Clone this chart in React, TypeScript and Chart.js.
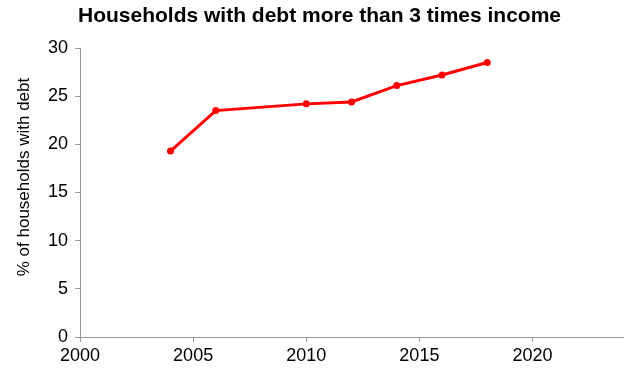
import React, { useEffect, useRef } from "react";
import { Chart, registerables } from "chart.js";

Chart.register(...registerables);

const years = [2004, 2006, 2010, 2012, 2014, 2016, 2018];
const shareWithHighDebt = [19.3, 23.5, 24.2, 24.4, 26.1, 27.2, 28.5];
const xTickValues = [2000, 2005, 2010, 2015, 2020];
const yTickValues = [0, 5, 10, 15, 20, 25, 30];
const chartTitle = "Households with debt more than 3 times income";
const yAxisTitle = "% of households with debt";

const FONT = "'Liberation Sans', Arial, Helvetica, sans-serif";

const textPlugin = {
  id: "textPlugin",
  afterDraw(chart: any) {
    const ctx = chart.ctx;
    ctx.save();
    ctx.font = `bold 21px ${FONT}`;
    ctx.fillStyle = "#000";
    ctx.textAlign = "center";
    ctx.textBaseline = "alphabetic";
    ctx.fillText(chartTitle, 319.5, 22);
    ctx.restore();

    ctx.save();
    ctx.translate(24, 177);
    ctx.rotate(-Math.PI / 2);
    ctx.font = `17px ${FONT}`;
    ctx.fillStyle = "#000";
    ctx.textAlign = "center";
    ctx.textBaseline = "middle";
    ctx.fillText(yAxisTitle, 0, 0);
    ctx.restore();
  },
};

export default function App() {
  const ref = useRef<HTMLCanvasElement | null>(null);

  useEffect(() => {
    if (!ref.current) return;
    const chart = new Chart(ref.current, {
      type: "line",
      data: {
        datasets: [
          {
            data: years.map((y, i) => ({ x: y, y: shareWithHighDebt[i] })),
            borderColor: "#FF0000",
            backgroundColor: "#FF0000",
            borderWidth: 3,
            pointRadius: 3.5,
            pointBorderWidth: 0,
            pointBackgroundColor: "#FF0000",
            tension: 0,
          },
        ],
      },
      options: {
        animation: false,
        responsive: false,
        layout: { padding: { top: 48, right: 12, left: 0, bottom: 0 } },
        plugins: {
          legend: { display: false },
          tooltip: { enabled: false },
          title: { display: false },
        },
        scales: {
          x: {
            type: "linear",
            min: 2000,
            max: 2024,
            afterBuildTicks: (scale: any) => {
              scale.ticks = xTickValues.map((v) => ({ value: v }));
            },
            afterFit: (scale: any) => {
              scale.height = 35;
            },
            ticks: {
              color: "#000",
              font: { family: FONT, size: 18 },
              padding: 3,
              maxRotation: 0,
              callback: (v: any) => String(v),
            },
            grid: {
              display: true,
              drawOnChartArea: false,
              drawTicks: true,
              tickLength: 5,
              color: "#999",
            },
            border: { display: true, color: "#999", width: 1 },
          },
          y: {
            type: "linear",
            min: 0,
            max: 30,
            afterBuildTicks: (scale: any) => {
              scale.ticks = yTickValues.map((v) => ({ value: v }));
            },
            afterFit: (scale: any) => {
              scale.width = 80;
            },
            ticks: {
              color: "#000",
              font: { family: FONT, size: 18 },
              padding: 7,
              callback: (v: any) => String(v),
            },
            grid: {
              display: true,
              drawOnChartArea: false,
              drawTicks: true,
              tickLength: 5,
              color: "#999",
            },
            border: { display: true, color: "#999", width: 1 },
          },
        },
      },
      plugins: [textPlugin],
    });
    return () => chart.destroy();
  }, []);

  return (
    <div style={{ position: "absolute", left: 0, top: 0, width: 635, height: 372, background: "#fff" }}>
      <canvas ref={ref} width={635} height={372} style={{ width: 635, height: 372, display: "block" }} />
    </div>
  );
}
